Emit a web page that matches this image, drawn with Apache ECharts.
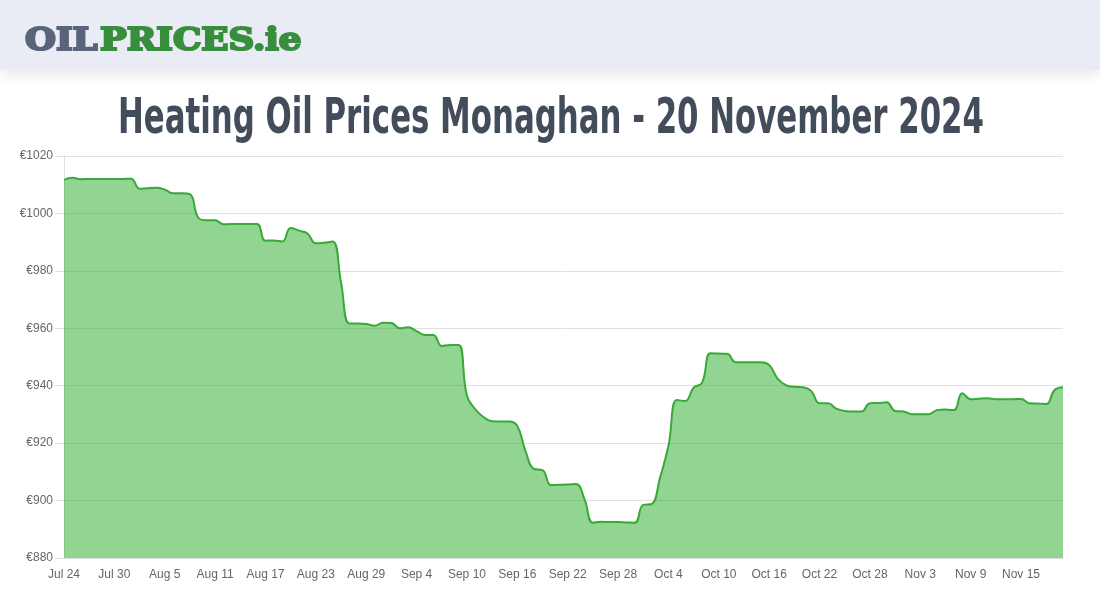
<!DOCTYPE html>
<html>
<head>
<meta charset="utf-8">
<script src="https://cdn.jsdelivr.net/npm/echarts@6/dist/echarts.min.js"></script>
<style>
html,body{margin:0;padding:0;background:#fff;}
#chart{width:1100px;height:600px;}
</style>
</head>
<body>
<div id="chart"></div>
<script>
const titleText = "Heating Oil Prices Monaghan - 20 November 2024";
const logoPart1 = "OIL";
const logoPart2 = "PRICES.ie";

const categories = [
  "Jul 24","Jul 25","Jul 26","Jul 27","Jul 28","Jul 29","Jul 30","Jul 31",
  "Aug 1","Aug 2","Aug 3","Aug 4","Aug 5","Aug 6","Aug 7","Aug 8","Aug 9","Aug 10",
  "Aug 11","Aug 12","Aug 13","Aug 14","Aug 15","Aug 16","Aug 17","Aug 18","Aug 19","Aug 20",
  "Aug 21","Aug 22","Aug 23","Aug 24","Aug 25","Aug 26","Aug 27","Aug 28","Aug 29","Aug 30","Aug 31",
  "Sep 1","Sep 2","Sep 3","Sep 4","Sep 5","Sep 6","Sep 7","Sep 8","Sep 9","Sep 10",
  "Sep 11","Sep 12","Sep 13","Sep 14","Sep 15","Sep 16","Sep 17","Sep 18","Sep 19","Sep 20",
  "Sep 21","Sep 22","Sep 23","Sep 24","Sep 25","Sep 26","Sep 27","Sep 28","Sep 29","Sep 30",
  "Oct 1","Oct 2","Oct 3","Oct 4","Oct 5","Oct 6","Oct 7","Oct 8","Oct 9","Oct 10",
  "Oct 11","Oct 12","Oct 13","Oct 14","Oct 15","Oct 16","Oct 17","Oct 18","Oct 19","Oct 20",
  "Oct 21","Oct 22","Oct 23","Oct 24","Oct 25","Oct 26","Oct 27","Oct 28","Oct 29","Oct 30","Oct 31",
  "Nov 1","Nov 2","Nov 3","Nov 4","Nov 5","Nov 6","Nov 7","Nov 8","Nov 9","Nov 10",
  "Nov 11","Nov 12","Nov 13","Nov 14","Nov 15","Nov 16","Nov 17","Nov 18","Nov 19","Nov 20"
];

const prices = [
  1011.7,1012.4,1011.9,1012.0,1012.0,1012.0,1012.0,1012.0,1012.1,1008.6,
  1008.8,1008.9,1008.3,1007.0,1007.0,1006.7,998.5,997.6,997.6,996.2,
  996.3,996.3,996.3,996.3,990.5,990.6,990.2,994.9,994.0,993.0,
  989.6,989.8,990.2,976.0,961.7,961.7,961.5,960.9,961.9,961.8,
  960.0,960.4,959.0,957.7,957.7,953.8,954.2,954.2,936.5,931.8,
  929.0,927.6,927.5,927.5,926.0,917.0,911.0,910.6,905.4,905.5,
  905.6,905.8,900.5,892.3,892.6,892.5,892.5,892.4,892.3,898.5,
  898.8,908.0,919.0,935.0,934.7,939.3,941.0,951.3,951.2,951.1,
  948.2,948.2,948.2,948.2,947.2,942.5,940.2,939.6,939.5,938.2,
  933.9,933.9,932.0,931.2,931.0,931.0,933.9,934.0,934.2,931.2,
  931.0,930.1,930.1,930.1,931.5,931.7,931.5,937.4,935.3,935.5,
  935.6,935.3,935.3,935.3,935.4,933.9,933.8,933.6,938.5,939.5
];

const yMin = 880, yMax = 1020, yStep = 20;

const chart = echarts.init(document.getElementById('chart'), null, {renderer:'canvas'});

const option = {
  backgroundColor: '#ffffff',
  animation: false,
  graphic: [
    { type:'rect', left:0, top:0, shape:{width:1100, height:70},
      style:{fill:'#e9ecf5', shadowBlur:14, shadowColor:'rgba(0,0,0,0.10)', shadowOffsetY:4}, z:10 },
    { type:'text', x:25, y:26, z:11,
      style:{text:logoPart1, fill:'#59647a', stroke:'#59647a', lineWidth:2.2,
        font:'900 31px "DejaVu Serif"', verticalAlign:'top', align:'left'} },
    { type:'text', x:100, y:26, z:11,
      style:{text:logoPart2, fill:'#388e3c', stroke:'#388e3c', lineWidth:2.2,
        font:'900 31px "DejaVu Serif"', verticalAlign:'top', align:'left'} },
    { type:'text', x:551, y:95, z:11,
      style:{text:titleText, fill:'#434c5b',
        font:'bold 50px "Liberation Sans Narrow", "DejaVu Sans Condensed", "Roboto", sans-serif',
        align:'center', verticalAlign:'top'} }
  ],
  grid: { left:64, right:37, top:156, bottom:42, containLabel:false },
  xAxis: {
    type:'category',
    data: categories,
    boundaryGap:false,
    axisLine:{show:true, lineStyle:{color:'#e0e0e0'}},
    axisTick:{show:false},
    splitLine:{show:false},
    axisLabel:{interval:5, color:'#666', fontSize:12, fontFamily:'"Liberation Sans", Arial, sans-serif', margin:11}
  },
  yAxis: {
    type:'value',
    min:yMin, max:yMax, interval:yStep,
    axisLine:{show:true, lineStyle:{color:'#e0e0e0'}},
    axisTick:{show:true, length:9, lineStyle:{color:'#e0e0e0'}},
    splitLine:{show:true, lineStyle:{color:'#e0e0e0', width:1}},
    axisLabel:{color:'#666', fontSize:12, fontFamily:'"Liberation Sans", Arial, sans-serif', margin:11,
      formatter: v => '€' + v}
  },
  series: [{
    type:'line',
    data: prices,
    smooth: 0.45,
    symbol:'none',
    lineStyle:{color:'#36a936', width:2},
    areaStyle:{color:'rgba(46,174,46,0.52)', opacity:1, origin:'start'},
    z:2
  }]
};
chart.setOption(option);

const zr = chart.getZr();
const els = zr.storage.getDisplayList();
function findText(t){ return els.find(e => e.style && e.style.text === t); }
function scaleTo(t, w){
  const el = findText(t);
  if(!el) return;
  const r = el.getBoundingRect();
  if(r.width>0){ el.scaleX = w / r.width; }
  el.markRedraw();
}
scaleTo(titleText, 866);
scaleTo(logoPart1, 75);
scaleTo(logoPart2, 204);
zr.refreshImmediately();
</script>
</body>
</html>
